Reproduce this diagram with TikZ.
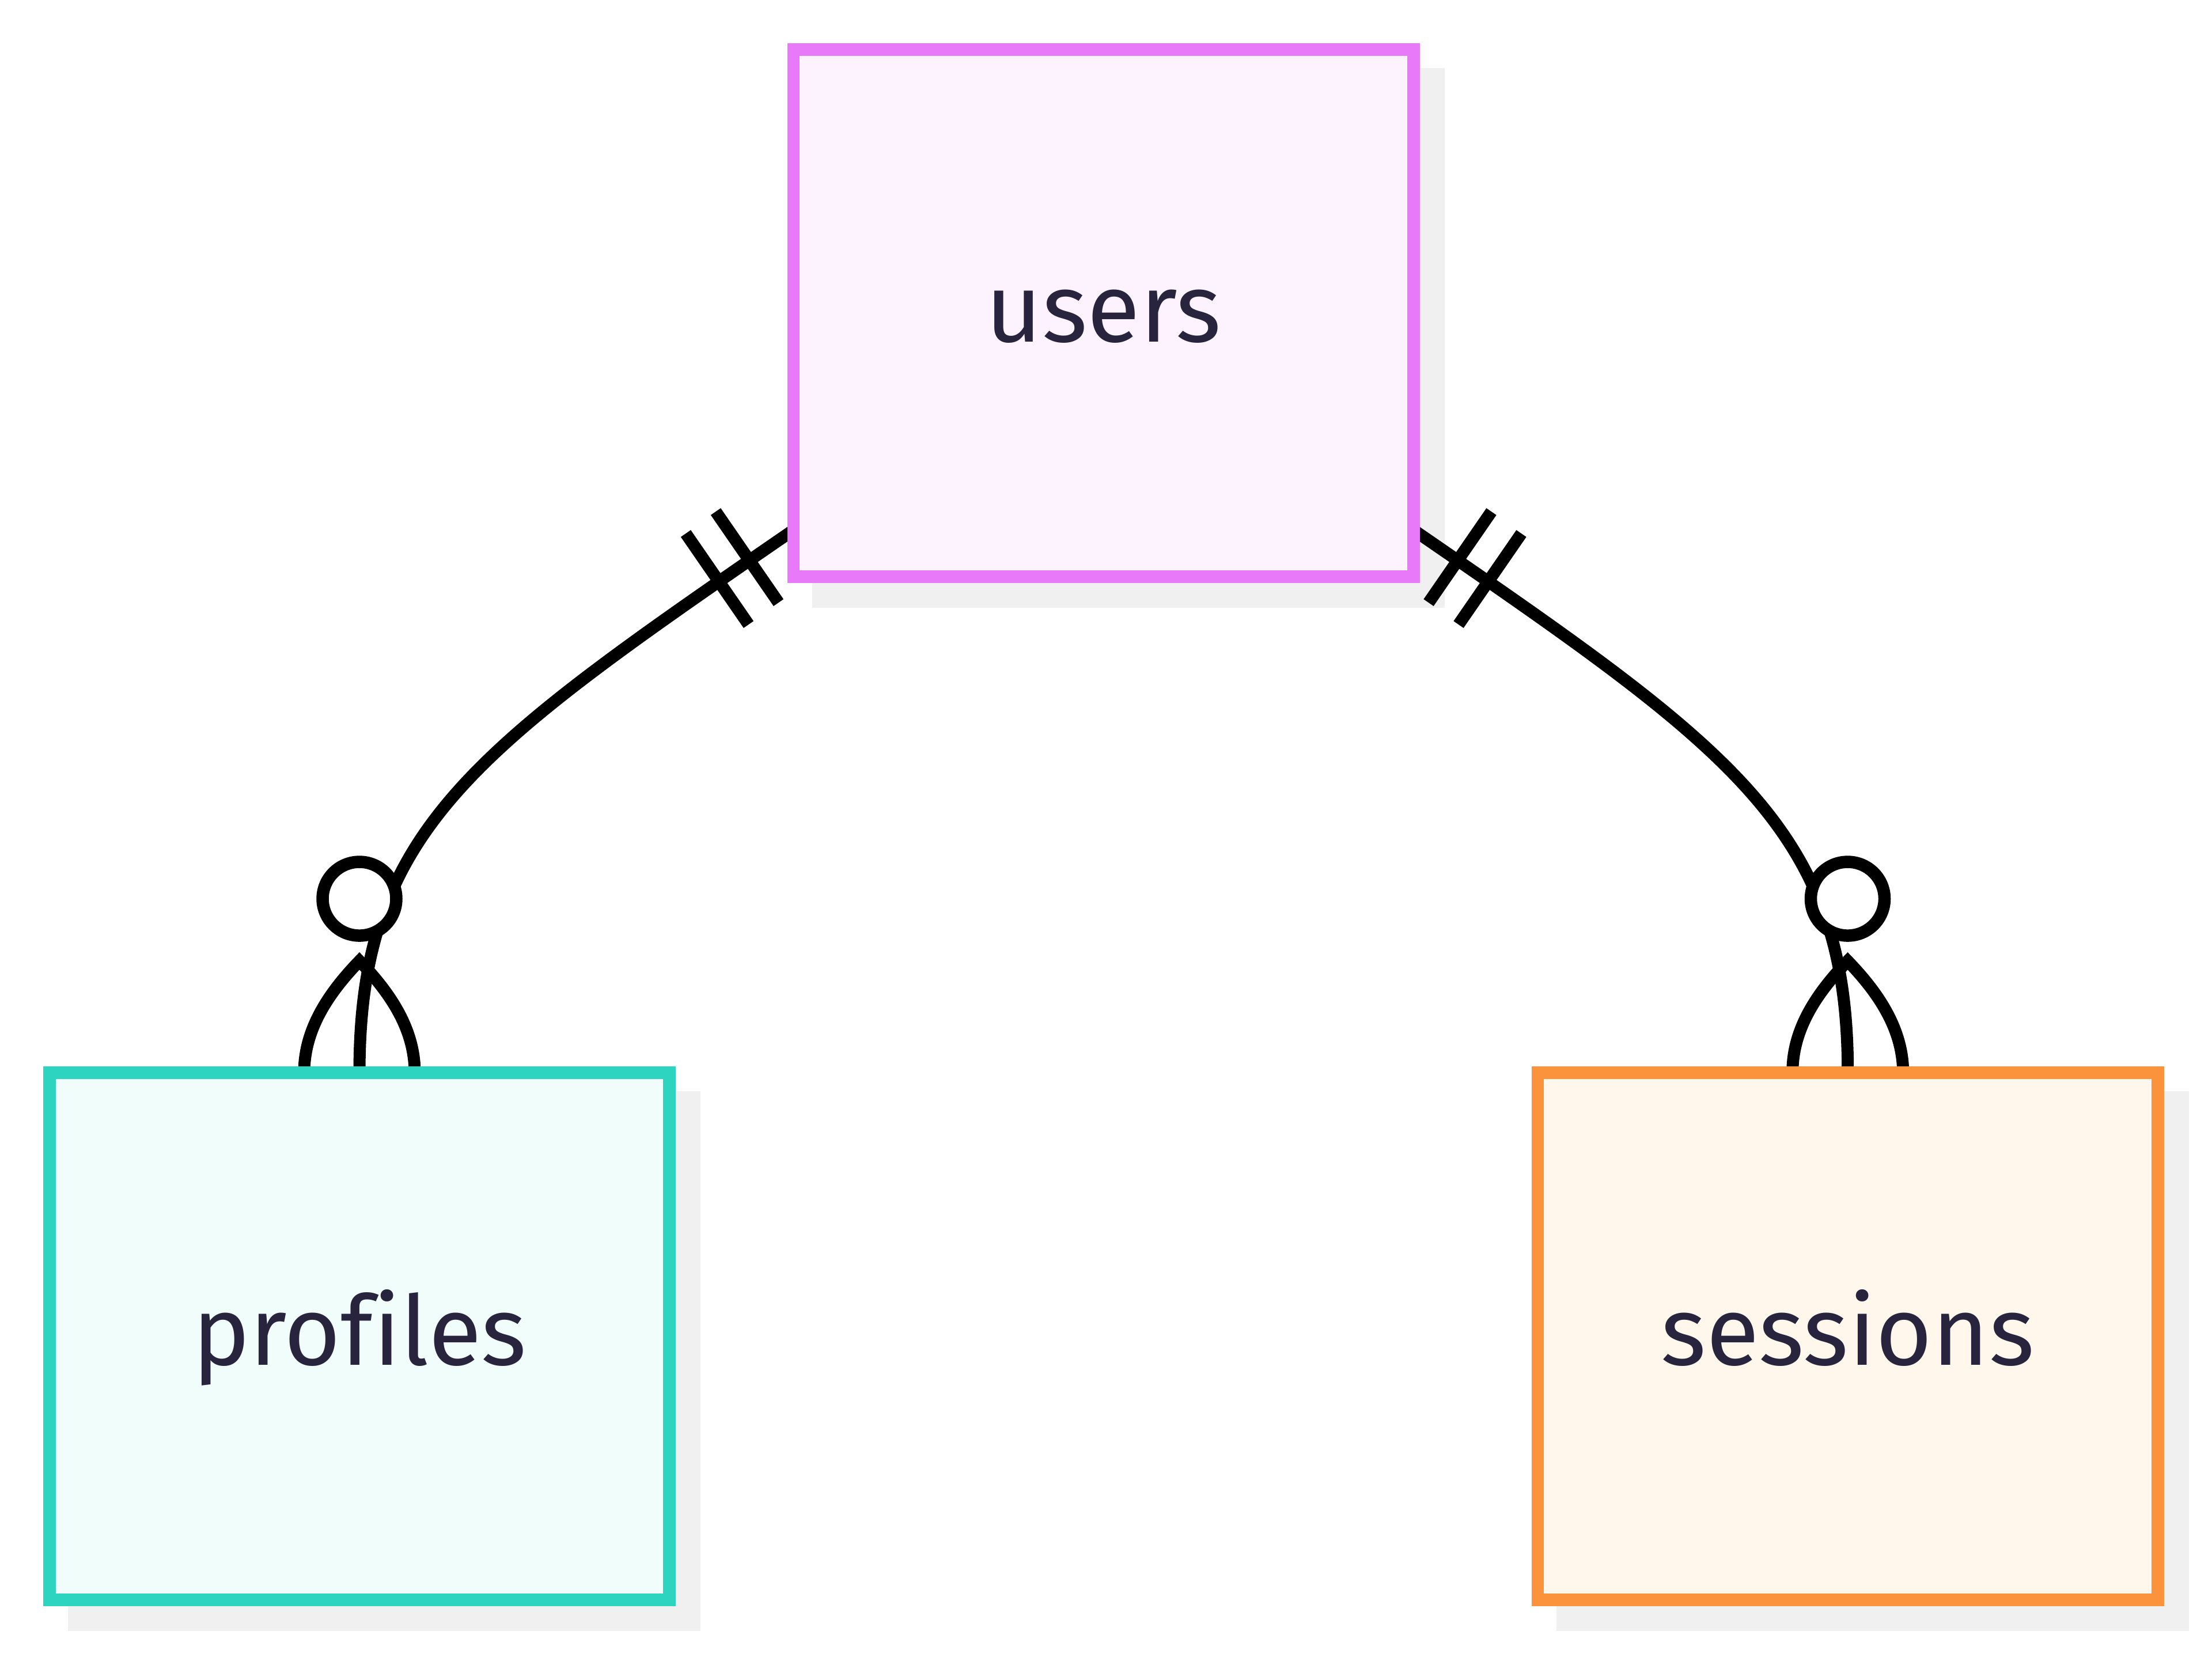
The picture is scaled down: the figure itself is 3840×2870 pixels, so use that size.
\documentclass[tikz,border=0pt]{standalone}
\usepackage{fontspec}
\setmainfont{Fira Sans}[Ligatures=NoCommon]
\usetikzlibrary{calc,backgrounds}

\definecolor{usersline}{RGB}{232,121,249}
\definecolor{usersfill}{RGB}{253,243,255}
\definecolor{profline}{RGB}{45,212,191}
\definecolor{proffill}{RGB}{240,253,250}
\definecolor{sessline}{RGB}{251,146,60}
\definecolor{sessfill}{RGB}{255,246,236}
\definecolor{shadowgray}{RGB}{240,240,240}
\definecolor{labeltext}{RGB}{40,36,61}

\tikzset{every picture/.style={line width=2.1pt}}
\tikzset{entity/.style={draw, line width=2.15pt, minimum width=107.65pt, minimum height=91.5pt, inner sep=0pt, outer sep=0pt, text=labeltext, font=\fontsize{16.8}{20}\selectfont, text height=12pt, text depth=2pt}}
\tikzset{zeroring/.style={circle, draw, fill=white, line width=2.15pt, minimum size=12.8pt, inner sep=0pt}}
\tikzset{rel/.style={draw=black, line width=2.1pt}}
\tikzset{shadowbox/.style={fill=shadowgray}}

\begin{document}
\begin{tikzpicture}[x=0.1pt,y=0.1pt,yscale=-1,xscale=1]
\useasboundingbox (0,0) rectangle (3840,2870);

%Shape: Rectangle [users]
\node [entity, draw=usersline, fill=usersfill] (users) at (1915.75,543.5) {users};
%Shape: Rectangle [profiles]
\node [entity, draw=profline, fill=proffill] (profiles) at (624,2319.5) {profiles};
%Shape: Rectangle [sessions]
\node [entity, draw=sessline, fill=sessfill] (sessions) at (3207.75,2319.5) {sessions};

\begin{scope}[on background layer]
%Shape: Shadows
\fill [shadowbox] (1409.75,118.25) rectangle (2507.75,1054.75) ;
\fill [shadowbox] (118.25,1894.25) rectangle (1215.75,2830.75) ;
\fill [shadowbox] (2701.75,1894.25) rectangle (3799.75,2830.75) ;

%Curve Lines [users - profiles]
\draw [rel]   ($(users.south west)+(0,-81)$) .. controls (820,1303.5) and (624,1440) .. (profiles.north) ;
%Curve Lines [crow foot profiles]
\draw [rel]   ($(profiles.north)+(-96,0)$) .. controls (528,1790) and (566,1728) .. (624,1668) .. controls (682,1728) and (720,1790) .. ($(profiles.north)+(96,0)$) ;

%Curve Lines [users - sessions]
\draw [rel]   ($(users.south east)+(0,-81)$) .. controls (3011.5,1303.5) and (3207.75,1440) .. (sessions.north) ;
%Curve Lines [crow foot sessions]
\draw [rel]   ($(sessions.north)+(-96,0)$) .. controls (3111.5,1790) and (3149.5,1728) .. (3207.5,1668) .. controls (3265.5,1728) and (3303.5,1790) .. ($(sessions.north)+(96,0)$) ;
\end{scope}

%Straight Lines [one and only one, users left]
\draw [rel]   (1242.5,888) -- (1351.5,1046) ;
\draw [rel]   (1190.5,926) -- (1299.5,1084) ;
%Straight Lines [one and only one, users right]
\draw [rel]   (2589,888) -- (2480,1046) ;
\draw [rel]   (2641,926) -- (2532,1084) ;

%Shape: Circle [zero, profiles]
\node [zeroring] (pzero) at (624,1560) {};
%Shape: Circle [zero, sessions]
\node [zeroring] (szero) at (3207.5,1560) {};

\end{tikzpicture}
\end{document}
